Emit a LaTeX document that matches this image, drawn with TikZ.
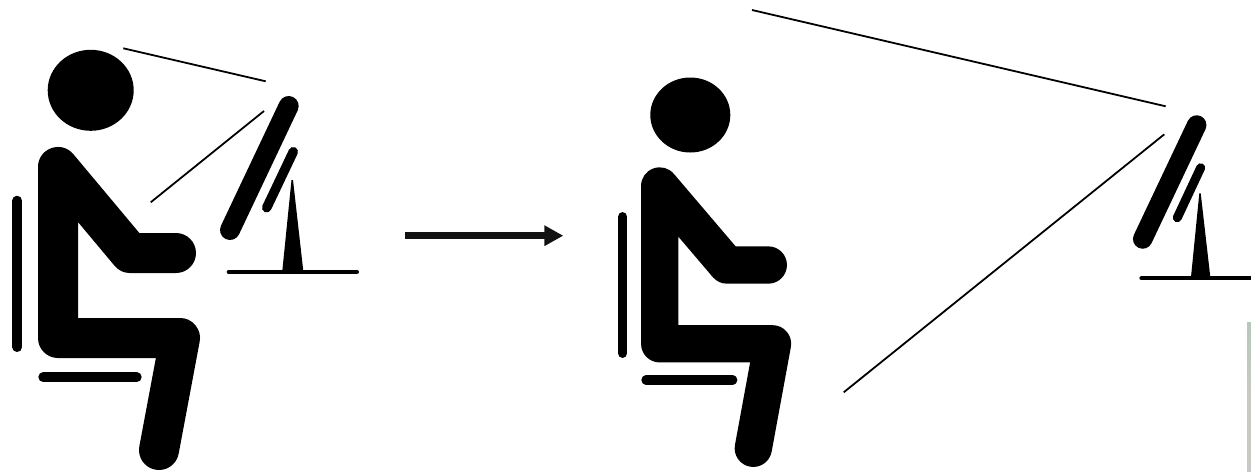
\documentclass[tikz,border=0pt]{standalone}
\usepackage{amsmath}
\usepackage{tikz}
\usetikzlibrary{arrows.meta}

\definecolor{striptop}{HTML}{B6C8BC}
\definecolor{stripbot}{HTML}{C9C9C3}

\begin{document}
\begin{tikzpicture}[
  x=0.02cm,y=-0.02cm,
  limb/.style={line width=#1*0.02cm,line cap=round,line join=round},
  bar/.style={line width=#1*0.02cm,line cap=round},
  sight/.style={line width=0.036cm},
  move/.style={line width=0.134cm,color=black!93,-{Triangle[length=0.38cm,width=0.39cm]}},
]
  \useasboundingbox (0,0) rectangle (1251,471);

  % near the screen
  \fill (90.7,90.3) ellipse [x radius=43,y radius=40.5];
  \draw[limb=40] (176,253) -- (130,253) -- (58,167) -- (58,338) -- (180,338) -- (159,450);
  \draw[bar=10] (17.3,200.7) -- (17.3,347);
  \draw[bar=10] (43.3,377.3) -- (136.7,377.3);
  \draw[bar=20] (288.7,106) -- (230,230);
  \draw[bar=9.5] (293.3,151.7) -- (266.7,207.7);
  \fill (291.5,180) -- (293,180) -- (303.3,271) -- (282.3,271) -- cycle;
  \draw[bar=4.7] (229,272) -- (356.7,272);
  \coordinate (nearTop) at (123.3,48.3);
  \coordinate (nearTopEnd) at (265.7,81.3);
  \coordinate (nearLow) at (150.7,202.3);
  \coordinate (nearLowEnd) at (264,111);
  \draw[sight] (nearTop) -- (nearTopEnd);
  \draw[sight] (nearLowEnd) -- (nearLow);

  % arrow
  \coordinate (moveA) at (405.3,235.7);
  \coordinate (moveB) at (563.3,235.7);
  \draw[move] (moveA) -- (moveB);

  % far from the screen
  \fill (690.3,115) ellipse [x radius=40,y radius=37.5];
  \draw[limb=37.3] (768.3,265) -- (727,265) -- (659.7,186) -- (659.7,343.8) -- (772.5,343.8) -- (753.3,448.3);
  \draw[bar=9.3] (622.7,216.7) -- (622.7,353.3);
  \draw[bar=9.3] (646,380) -- (732.7,380);
  \draw[bar=19.5] (1196.7,125) -- (1142.7,239);
  \draw[bar=9] (1200.7,167.7) -- (1177.3,217.7);
  \fill (1199.3,193.3) -- (1200.7,193.3) -- (1210.3,277) -- (1191,277) -- cycle;
  \draw[bar=4.3] (1141.5,278.3) -- (1256,278.3);
  \coordinate (farTop) at (752,10);
  \coordinate (farTopEnd) at (1165.7,106.3);
  \coordinate (farLow) at (843.7,392.3);
  \coordinate (farLowEnd) at (1164.3,134.3);
  \draw[sight] (farTop) -- (farTopEnd);
  \draw[sight] (farLowEnd) -- (farLow);

  % strip at the corner
  \fill[top color=striptop,bottom color=stripbot,middle color=stripbot] (1247,322) rectangle (1251,471);
\end{tikzpicture}
\end{document}
